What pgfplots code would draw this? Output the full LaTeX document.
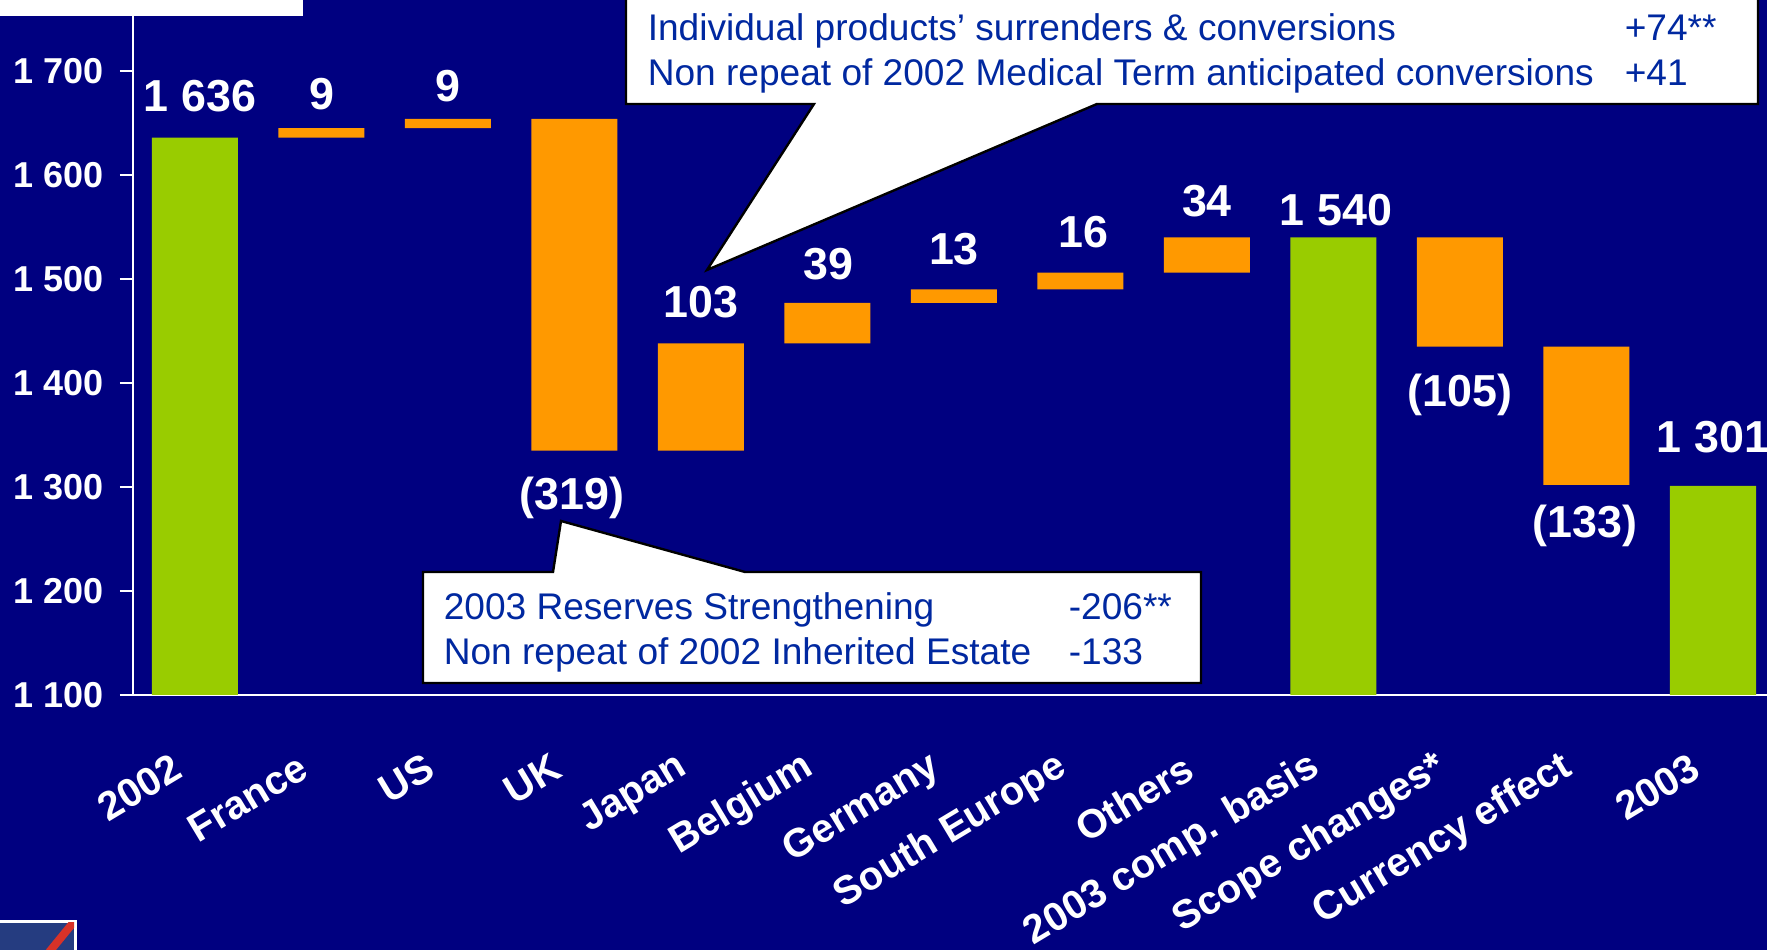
\documentclass[border=0pt]{standalone}
\usepackage{fontspec}
\setmainfont{Liberation Sans}
\usepackage{pgfplots}
\pgfplotsset{compat=1.18}
\usepackage{pgfplotstable}

\definecolor{bgnavy}{RGB}{0,0,128}
\definecolor{barGreen}{RGB}{153,204,0}
\definecolor{barOrange}{RGB}{255,153,0}
\definecolor{noteBlue}{RGB}{0,40,160}
\definecolor{logoBlue}{RGB}{37,60,128}
\definecolor{logoRed}{RGB}{215,50,40}

\tikzset{vlab/.style={font=\bfseries\fontsize{11.2}{13}\selectfont, text=white, inner sep=0pt, anchor=base}}

% waterfall: invisible base, green totals, orange steps
\pgfplotstableread{
x base total delta
0  0    1636 0
1  1636 0    9
2  1645 0    9
3  1335 0    319
4  1335 0    103
5  1438 0    39
6  1477 0    13
7  1490 0    16
8  1506 0    34
9  0    1540 0
10 1435 0    105
11 1302 0    133
12 0    1301 0
}\waterfall

\begin{document}
\begin{tikzpicture}[x=1pt,y=1pt]
\useasboundingbox (0,0) rectangle (441.75,237.5);
\clip (0,0) rectangle (441.75,237.5);
\fill[bgnavy] (0,0) rectangle (441.75,237.5);
\begin{axis}[
  at={(33.25pt,63.75pt)}, anchor=south west,
  scale only axis, width=408.5pt, height=173.16pt,
  xmin=-0.49, xmax=12.427, ymin=1100, ymax=1766,
  ybar stacked, bar width=21.5pt,
  clip mode=individual,
  axis x line*=bottom, axis y line*=left,
  axis line style={white, line width=0.6pt},
  tick align=outside, major tick length=3.25pt,
  ytick={1100,1200,...,1700},
  yticklabels={1 100,1 200,1 300,1 400,1 500,1 600,1 700},
  ytick style={white, line width=0.5pt},
  yticklabel style={font=\bfseries\fontsize{9}{10}\selectfont, text=white, inner sep=0pt, anchor=east, xshift=-4pt},
  xtick={0,...,12},
  xticklabels={2002,France,US,UK,Japan,Belgium,Germany,South Europe,Others,2003 comp. basis,Scope changes*,Currency effect,2003},
  xtick style={draw=none},
  xticklabel style={font=\bfseries\fontsize{10}{12}\selectfont, text=white, inner sep=0pt, anchor=east, xshift=-4.25pt, yshift=-14pt, rotate=31},
]
\addplot[draw=none, fill=none] table[x=x, y=base] {\waterfall};
\addplot[draw=none, fill=barGreen] table[x=x, y=total] {\waterfall};
\addplot[draw=none, fill=barOrange] table[x=x, y=delta] {\waterfall};

\node[vlab] at (axis cs:0.04,1660.6) {1 636};
\node[vlab] at (axis cs:1,1662.5) {9};
\node[vlab] at (axis cs:2,1671) {9};
\node[vlab] at (axis cs:2.98,1278) {(319)};
\node[vlab] at (axis cs:4,1462.5) {103};
\node[vlab] at (axis cs:5.01,1499) {39};
\node[vlab] at (axis cs:6,1513.5) {13};
\node[vlab] at (axis cs:7.02,1529.8) {16};
\node[vlab] at (axis cs:8,1560) {34};
\node[vlab] at (axis cs:9.02,1551) {1 540};
\node[vlab] at (axis cs:10,1377) {(105)};
\node[vlab] at (axis cs:10.99,1251) {(133)};
\node[vlab] at (axis cs:12,1332.7) {1 301};
\end{axis}

% white strip top left
\fill[white] (0,233.5) rectangle (75.75,240);

% logo corner
\fill[white] (0,0) rectangle (19.25,7.5);
\fill[logoBlue] (0,0) rectangle (18.5,6.75);
\begin{scope}
\clip (0,0) rectangle (18.5,6.75);
\draw[logoRed, line width=2pt] (18.6,7.2) -- (12.3,-0.5);
\end{scope}

% upper callout
\filldraw[fill=white, draw=black, line width=0.6pt]
  (156.5,240) -- (156.5,211.5) -- (203.5,211.5) -- (176.75,170) -- (274.25,211.5)
  -- (439.5,211.5) -- (439.5,240) -- cycle;
\begin{scope}[every node/.style={anchor=base west, inner sep=0pt, text=noteBlue, font=\fontsize{9.27}{11}\selectfont}]
\node at (161.75,227.25) {Individual products’ surrenders \& conversions};
\node at (161.75,216) {Non repeat of 2002 Medical Term anticipated conversions};
\node at (406,227.25) {+74**};
\node at (406,216) {+41};
\end{scope}

% lower callout
\filldraw[fill=white, draw=black, line width=0.6pt]
  (105.75,94.5) -- (138.25,94.5) -- (140.25,107.25) -- (186.25,94.5)
  -- (300.25,94.5) -- (300.25,66.75) -- (105.75,66.75) -- cycle;
\begin{scope}[every node/.style={anchor=base west, inner sep=0pt, text=noteBlue, font=\fontsize{9.27}{11}\selectfont}]
\node at (110.75,82.6) {2003 Reserves Strengthening};
\node at (110.75,71.4) {Non repeat of 2002 Inherited Estate};
\node at (267,82.6) {-206**};
\node at (267,71.4) {-133};
\end{scope}
\end{tikzpicture}
\end{document}
